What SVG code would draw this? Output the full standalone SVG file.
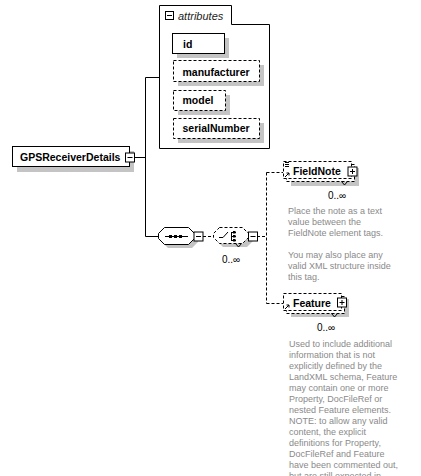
<svg xmlns="http://www.w3.org/2000/svg" width="421" height="476" viewBox="0 0 421 476">
<defs>
<style>
.box{fill:#fff;stroke:#000;stroke-width:1}
.dbox{fill:#fff;stroke:#000;stroke-width:1;stroke-dasharray:3,2}
.sh{fill:#c4c4c4}
.ln{fill:none;stroke:#000;stroke-width:1}
.dl{fill:none;stroke:#000;stroke-width:1;stroke-dasharray:3,2}
.nm{font-family:"Liberation Sans",Arial,sans-serif;font-weight:bold;font-size:10.5px;fill:#000}
.it{font-family:"Liberation Sans",Arial,sans-serif;font-style:italic;font-size:11px;fill:#222}
.oc{font-family:"Liberation Sans",Arial,sans-serif;font-size:10px;fill:#000}
.ds{font-family:"Liberation Sans",Arial,sans-serif;font-size:9px;fill:#8a8a8a}
</style>
<g id="minus"><rect x="-4.5" y="-4.5" width="9" height="9" class="box"/><path d="M-2.5,0H2.5" class="ln"/></g>
<g id="plus"><rect x="-4.5" y="-4.5" width="9" height="9" class="box"/><path d="M-2.5,0H2.5M0,-2.5V2.5" class="ln"/></g>
</defs>
<rect width="421" height="476" fill="#fff"/>

<g id="connectors">
<path d="M134.5,157.5H145.5M145.5,77.5V236.5M145.5,77.5H159M145.5,236.5H158" class="ln"/>
<path d="M203,236.5H213M257,236.5H266.5M266.5,172.5V303.5M266.5,172.5H283M266.5,303.5H283" class="dl"/>
</g>

<g id="attributes">
<path d="M159.5,5.5H231.5V24.5H269.5V148.5H159.5Z" class="ln"/>
<rect x="165.5" y="11.5" width="8" height="8" class="ln"/>
<path d="M167,15.5H172" class="ln"/>
<text x="178" y="20" class="it">attributes</text>
</g>

<g id="attr-id">
<rect x="177" y="38" width="52" height="20" class="sh"/>
<rect x="172.5" y="33.5" width="52" height="20" class="box"/>
<text x="183" y="48" class="nm">id</text>
</g>
<g id="attr-manufacturer">
<rect x="178" y="65" width="86" height="21" class="sh"/>
<rect x="173.5" y="60.5" width="86" height="21" class="dbox"/>
<text x="182.5" y="75.5" class="nm">manufacturer</text>
</g>
<g id="attr-model">
<rect x="178" y="95" width="52" height="20" class="sh"/>
<rect x="173.5" y="90.5" width="52" height="20" class="dbox"/>
<text x="182.5" y="104" class="nm">model</text>
</g>
<g id="attr-serialNumber">
<rect x="178" y="123" width="86" height="20" class="sh"/>
<rect x="173.5" y="118.5" width="86" height="20" class="dbox"/>
<text x="182.5" y="132" class="nm">serialNumber</text>
</g>

<g id="GPSReceiverDetails">
<rect x="17" y="151" width="117" height="21" class="sh"/>
<rect x="12.5" y="146.5" width="117" height="20" class="box"/>
<text x="20" y="160.5" class="nm">GPSReceiverDetails</text>
<use href="#minus" x="130" y="157.5"/>
</g>

<g id="sequence">
<path d="M168,231H192L198,237V242L192,248H168L162,242V237Z" class="sh"/>
<path d="M164.5,227.5H188.5L194.5,233.5V238.5L188.5,244.5H164.5L158.5,238.5V233.5Z" class="box"/>
<path d="M165,236.5H188" class="ln"/>
<rect x="169" y="235" width="3" height="3" fill="#000"/>
<rect x="174" y="235" width="3" height="3" fill="#000"/>
<rect x="179" y="235" width="3" height="3" fill="#000"/>
<use href="#minus" x="198.5" y="236.5"/>
</g>

<g id="choice">
<path d="M223,231H247L253,237V241L247,247H223L217,241V237Z" class="sh"/>
<path d="M219.5,227.5H242.5L248.5,233.5V237.5L242.5,243.5H219.5L213.5,237.5V233.5Z" class="dbox"/>
<path d="M235.5,243.5L238.5,247L241.5,243.5" class="ln"/>
<path d="M219,237.5H223L228,232" class="ln"/>
<path d="M231.5,232V241M231.5,232.5H236M231.5,236.5H236M231.5,240.5H236" class="ln"/>
<rect x="233" y="231" width="2.5" height="2.5" fill="#000"/>
<rect x="233" y="235" width="2.5" height="2.5" fill="#000"/>
<rect x="233" y="239" width="2.5" height="2.5" fill="#000"/>
<use href="#minus" x="253" y="236.5"/>
<text x="222" y="263" class="oc">0..∞</text>
</g>

<g id="FieldNote">
<rect x="291" y="168" width="68" height="18" class="sh"/>
<rect x="286.5" y="164.5" width="68" height="17" class="dbox"/>
<rect x="283.5" y="161.5" width="68" height="17" class="dbox"/>
<path d="M285,162.5H289M285,164.5H289M285,166.5H289" class="ln"/>
<path d="M285,177L289,173M286.5,173H289V175.5" class="ln"/>
<text x="293" y="175" class="nm">FieldNote</text>
<use href="#plus" x="352.5" y="171.5"/>
<path d="M341.5,181.5L344.5,185L347.5,181.5" class="ln"/>
<text x="328" y="199" class="oc">0..∞</text>
<text class="ds"><tspan x="288" y="214">Place the note as a text</tspan><tspan x="288" y="225">value between the</tspan><tspan x="288" y="236">FieldNote element tags.</tspan><tspan x="288" y="258">You may also place any</tspan><tspan x="288" y="269">valid XML structure inside</tspan><tspan x="288" y="280">this tag.</tspan></text>
</g>

<g id="Feature">
<rect x="291" y="299" width="58" height="18" class="sh"/>
<rect x="286.5" y="296.5" width="58" height="17" class="dbox"/>
<rect x="283.5" y="293.5" width="58" height="17" class="dbox"/>
<path d="M285,309L289,305M286.5,305H289V307.5" class="ln"/>
<text x="293" y="306.5" class="nm">Feature</text>
<use href="#plus" x="342" y="302.5"/>
<path d="M331.5,313.5L334.5,317L337.5,313.5" class="ln"/>
<text x="317" y="331" class="oc">0..∞</text>
<text class="ds"><tspan x="289" y="347">Used to include additional</tspan><tspan x="289" y="358">information that is not</tspan><tspan x="289" y="369">explicitly defined by the</tspan><tspan x="289" y="380">LandXML schema, Feature</tspan><tspan x="289" y="391">may contain one or more</tspan><tspan x="289" y="402">Property, DocFileRef or</tspan><tspan x="289" y="413">nested Feature elements.</tspan><tspan x="289" y="424">NOTE: to allow any valid</tspan><tspan x="289" y="435">content, the explicit</tspan><tspan x="289" y="446">definitions for Property,</tspan><tspan x="289" y="457">DocFileRef and Feature</tspan><tspan x="289" y="468">have been commented out,</tspan><tspan x="289" y="479">but are still expected in</tspan></text>
</g>
</svg>
